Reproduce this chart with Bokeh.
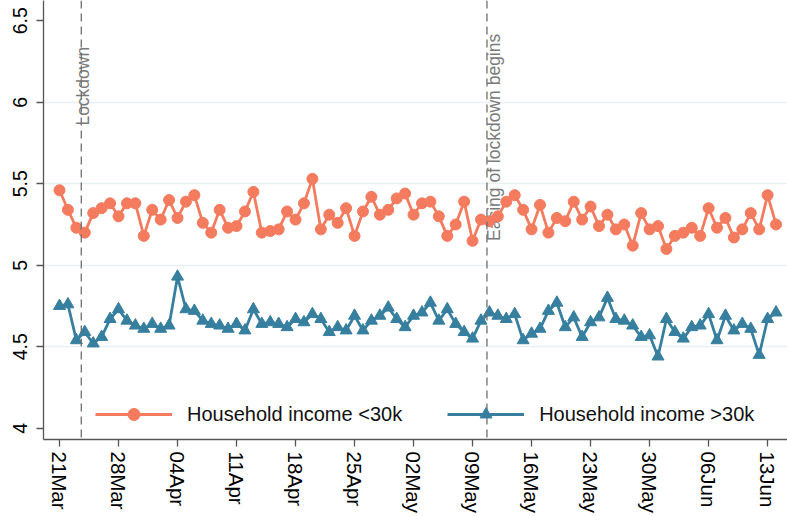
import pandas as pd
from bokeh.plotting import figure
from bokeh.models import (Range1d, FixedTicker, DatetimeTickFormatter, Span,
                          Legend, LegendItem, NumeralTickFormatter, ColumnDataSource)
from bokeh.core.properties import value
from bokeh.embed import file_html
from bokeh.resources import INLINE

# ---------------- data ----------------
start_date = "2020-03-21"
income_low = [5.46, 5.34, 5.23, 5.20, 5.32, 5.35, 5.38, 5.30, 5.38, 5.38,
              5.18, 5.34, 5.28, 5.40, 5.29, 5.39, 5.43, 5.26, 5.20, 5.34,
              5.23, 5.24, 5.33, 5.45, 5.20, 5.21, 5.22, 5.33, 5.28, 5.38,
              5.53, 5.22, 5.31, 5.26, 5.35, 5.18, 5.33, 5.42, 5.31, 5.34,
              5.41, 5.44, 5.31, 5.38, 5.39, 5.30, 5.18, 5.25, 5.39, 5.15,
              5.28, 5.27, 5.30, 5.39, 5.43, 5.34, 5.22, 5.37, 5.20, 5.29,
              5.27, 5.39, 5.28, 5.36, 5.24, 5.31, 5.22, 5.25, 5.12, 5.32,
              5.22, 5.24, 5.10, 5.18, 5.20, 5.23, 5.18, 5.35, 5.23, 5.29,
              5.17, 5.22, 5.32, 5.22, 5.43, 5.25]
income_high = [4.75, 4.76, 4.54, 4.59, 4.52, 4.56, 4.67, 4.73, 4.66, 4.63,
               4.61, 4.64, 4.61, 4.63, 4.93, 4.73, 4.72, 4.66, 4.64, 4.63,
               4.61, 4.64, 4.60, 4.73, 4.64, 4.65, 4.64, 4.62, 4.67, 4.65,
               4.70, 4.67, 4.59, 4.62, 4.60, 4.69, 4.60, 4.66, 4.69, 4.74,
               4.67, 4.62, 4.69, 4.71, 4.77, 4.66, 4.73, 4.64, 4.59, 4.55,
               4.66, 4.71, 4.69, 4.67, 4.70, 4.54, 4.58, 4.61, 4.72, 4.77,
               4.62, 4.68, 4.56, 4.65, 4.68, 4.80, 4.67, 4.66, 4.63, 4.56,
               4.57, 4.44, 4.67, 4.59, 4.55, 4.62, 4.63, 4.70, 4.54, 4.69,
               4.60, 4.64, 4.61, 4.45, 4.67, 4.71]
series_labels = ["Household income <30k", "Household income >30k"]
tick_dates = ["2020-03-21", "2020-03-28", "2020-04-04", "2020-04-11", "2020-04-18",
              "2020-04-25", "2020-05-02", "2020-05-09", "2020-05-16", "2020-05-23",
              "2020-05-30", "2020-06-06", "2020-06-13"]
y_ticks = [4, 4.5, 5, 5.5, 6, 6.5]
grid_ticks = [4.5, 5, 5.5, 6]
event_dates = ["2020-03-23 14:00", "2020-05-10 17:00"]
event_labels = ["Lockdown", "Easing of lockdown begins"]
event_label_top = [6.34, 6.42]
event_label_dx = [2.0, 7]

# ---------------- styling ----------------
ORANGE = "#f47b5e"
TEAL = "#377f9f"
FONT = "Liberation Sans"

dates = pd.date_range(start_date, periods=len(income_low), freq="D")
t0 = pd.Timestamp(start_date)
day = pd.Timedelta(days=1)

def ms(t):
    return t.value / 1e6

src = ColumnDataSource(dict(date=dates, low=income_low, high=income_high))

p = figure(width=787, height=516, x_axis_type="datetime",
           output_backend="svg", toolbar_location=None,
           x_range=Range1d(ms(t0 - 1.898 * day), ms(t0 + 86.36 * day)),
           y_range=Range1d(3.931, 6.624),
           min_border_left=43, min_border_right=0, min_border_top=0,
           min_border_bottom=77)
p.outline_line_color = None
p.background_fill_color = "white"

# grid
p.xgrid.visible = False
p.ygrid.ticker = FixedTicker(ticks=grid_ticks)
p.ygrid.grid_line_color = "#e9f0f3"
p.ygrid.grid_line_width = 1.3

# event lines
for d in event_dates:
    p.add_layout(Span(location=ms(pd.Timestamp(d)), dimension="height",
                      line_color="#6e6e6e", line_dash="8 5", line_width=1.3))

ev_src = ColumnDataSource(dict(x=[pd.Timestamp(d) for d in event_dates],
                               y=event_label_top, t=event_labels, dx=event_label_dx))
p.text(x="x", y="y", text="t", x_offset="dx", source=ev_src, angle=1.5708,
       text_align="right", text_baseline="middle", text_color="#7a7a7a",
       text_font=value(FONT), text_font_size="17.5px")

# series
l1 = p.line("date", "low", source=src, line_color=ORANGE, line_width=2.8)
s1 = p.scatter("date", "low", source=src, marker="circle", size=11,
               fill_color=ORANGE, line_color=ORANGE)
l2 = p.line("date", "high", source=src, line_color=TEAL, line_width=2.8)
s2 = p.scatter("date", "high", source=src, marker="triangle", size=12,
               fill_color=TEAL, line_color=TEAL)

legend = Legend(items=[LegendItem(label=series_labels[0], renderers=[l1, s1]),
                       LegendItem(label=series_labels[1], renderers=[l2, s2])],
                location=(52, 10), orientation="horizontal",
                glyph_width=77, glyph_height=30, label_standoff=15, spacing=45,
                padding=0, margin=0, label_text_font=FONT,
                label_text_font_size="20px", label_text_color="#111111",
                label_height=30,
                background_fill_alpha=0, border_line_alpha=0)
p.add_layout(legend)

# axes
p.xaxis.ticker = FixedTicker(ticks=[ms(pd.Timestamp(d)) for d in tick_dates])
p.xaxis.formatter = DatetimeTickFormatter(days="%d%b", months="%d%b")
p.xaxis.major_label_orientation = "vertical"
p.yaxis.ticker = FixedTicker(ticks=y_ticks)
p.yaxis.formatter = NumeralTickFormatter(format="0.[0]")
p.yaxis.major_label_orientation = "vertical"
for ax in (p.xaxis[0], p.yaxis[0]):
    ax.axis_line_color = "#555555"
    ax.axis_line_width = 1.3
    ax.major_tick_line_color = "#555555"
    ax.major_tick_line_width = 1.3
    ax.major_tick_out = 7
    ax.major_tick_in = 0
    ax.minor_tick_line_color = None
    ax.major_label_text_font = FONT
    ax.major_label_text_color = "#000000"
p.xaxis.major_label_text_font_size = "20.5px"
p.xaxis.major_label_standoff = 5
p.yaxis.major_label_text_font_size = "19.5px"
p.yaxis.major_label_standoff = 9

open("out.html", "w").write(file_html(p, INLINE))
